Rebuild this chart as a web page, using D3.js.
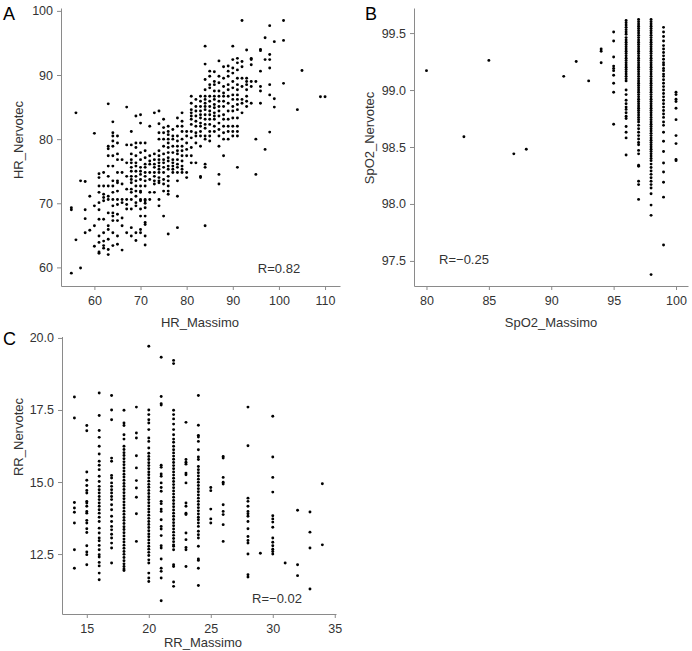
<!DOCTYPE html>
<html><head><meta charset="utf-8">
<script src="https://cdn.jsdelivr.net/npm/d3@7"></script>
<style>body{margin:0;background:#fff}svg{display:block;font-family:"Liberation Sans",Arial,Helvetica,sans-serif}</style>
</head><body>
<svg id="chart" width="692" height="651"></svg>
<script>
// ---------- Panel A: HR ----------
const hrMassimo = [55,56,57,58,59,60,61,62,63,64,65,66,67,68,69,70,71,72,73,74,75,76,77,78,79,80,81,82,83,84,85,86,87,88,89,90,91,92,93,94,95,96,97,98,99,101,104,105,109,110];
const hrNervotec = [
 [59.1,69.3,69.0],
 [84.1,64.3],
 [59.9,73.5],
 [73.4,69.0,67.6,65.4],
 [71.1,65.8],
 [80.9,69.6,66.5,63.3],
 [74.6,74.0,72.7,71.7,70.1,69.0,67.5,64.9,63.9,62.4,62.2],
 [74.8,72.7,71.4,70.9,70.4,67.5,65.4,64.1,63.4,63.0],
 [85.5,78.9,78.5,77.4,75.8,74.2,72.7,71.1,70.6,68.5,66.5,65.9,64.4,62.8,62.0],
 [82.7,81.0,80.5,79.7,78.9,77.4,75.8,73.5,72.7,71.7,70.6,69.6,68.5,68.0,67.3,65.4,63.4],
 [80.5,79.4,77.7,76.8,74.8,73.5,73.2,71.9,70.6,69.8,68.3,67.3,64.9,63.6],
 [76.8,74.8,73.0,70.6,70.1,67.7,66.5,62.7],
 [85.0,79.1,76.3,74.2,72.2,70.6,69.8,69.1,65.4],
 [81.2,79.1,77.7,76.8,76.3,75.6,75.0,74.2,73.7,73.2,72.2,71.7,70.6,69.1,66.2,64.9],
 [83.6,79.4,78.7,77.4,76.3,75.8,75.0,74.2,73.5,72.7,71.9,71.1,70.1,69.6,65.4,64.2],
 [83.8,82.5,79.4,77.9,76.8,75.6,75.0,74.5,73.7,72.7,71.9,71.7,70.6,70.4,69.1,68.0,65.9,65.4],
 [79.4,78.2,77.1,76.1,75.6,74.8,74.2,73.5,72.7,70.6,70.4,70.0,69.3,68.0,67.0,66.7,64.9,63.5],
 [82.0,77.4,76.6,76.1,74.8,73.7,71.7,70.6],
 [84.1,77.7,76.8,76.1,75.6,74.8,74.2,73.5,73.0,71.7],
 [84.4,82.4,81.0,80.0,78.2,77.4,76.8,76.3,75.8,75.3,74.8,74.0,73.5,73.2,70.6,69.6],
 [83.1,81.8,81.0,80.0,78.9,77.7,76.8,76.3,75.6,74.8,73.7,73.0,71.9,68.0],
 [82.0,81.2,80.7,80.0,79.4,78.7,77.9,77.1,76.6,75.8,75.3,74.2,73.5,72.7,71.9,71.4,65.2],
 [81.5,80.5,80.0,78.9,77.9,76.8,76.3,75.8,75.3,74.8],
 [83.3,82.0,80.5,79.7,78.9,78.2,77.7,76.8,76.1,75.6,74.8,73.5,71.1,66.2],
 [84.1,82.8,82.0,81.2,80.0,78.9,78.2,77.4,76.6,75.8,75.3,74.8],
 [81.2,80.5,79.4,78.4,77.4,74.8,74.0],
 [86.7,85.6,84.6,84.1,83.6,83.1,82.3,81.2,80.2,78.7,77.4,76.3],
 [86.2,85.1,84.4,83.6,82.8,82.0,81.0,80.5,79.4,76.3],
 [86.7,85.9,85.1,84.4,83.8,83.3,82.5,82.0,81.2,80.5,78.9,74.2,74.0],
 [94.5,91.7,89.3,87.7,86.7,86.2,85.6,85.1,84.6,83.8,83.1,82.3,81.7,80.5,80.0,76.1,75.6,66.5],
 [90.6,89.8,88.5,88.0,86.7,85.9,85.1,84.4,83.8,83.1,82.3,81.2,80.5,79.7],
 [90.5,89.0,88.5,87.5,86.7,86.2,85.4,84.9,84.1,83.6,83.1,82.0,81.2],
 [92.2,89.8,88.8,87.5,86.7,85.9,85.1,84.4,83.6,82.5,81.5,80.5,78.9,74.5,73.0],
 [91.3,89.5,88.2,87.2,86.7,85.9,85.1,83.8,83.1,82.0,81.0,80.0,77.4],
 [91.4,90.6,89.8,88.5,87.7,86.7,85.6,84.4,83.1,82.0,81.2,80.0],
 [94.5,92.4,91.1,90.3,89.0,88.0,86.9,86.2,85.1,84.4,83.3,82.0,81.2,80.5],
 [92.6,91.9,90.8,89.5,88.5,87.7,86.9,86.2,85.4,84.6,83.3,82.0,81.2,80.5,75.6],
 [98.5,92.1,91.3,89.5,88.2,86.2,85.6,84.1],
 [93.9,89.5,89.0,88.5,87.7,86.7,85.9,85.1],
 [92.6,92.4,91.6,89.0,88.2,85.6],
 [89.0,80.0,74.5],
 [94.0,93.8,90.6,88.2,87.5,85.6],
 [95.8,92.4,78.4],
 [97.7,93.2,92.4,91.1,88.5,86.9,81.1],
 [95.2,86.3,85.0],
 [98.5,95.4,88.7],
 [84.6],
 [90.7],
 [86.6],
 [86.6]
];
const hrXTicks = [60,70,80,90,100,110];
const hrYTicks = [60,70,80,90,100];

// ---------- Panel B: SpO2 ----------
const spo2Massimo = [80,83,85,87,88,91,92,93,94,95,96,97,98,99,100];
const spo2Nervotec = [
 [99.17],[98.59],[99.26],[98.44],[98.48],[99.12],[99.25],[99.08],
 [99.36,99.34,99.24],
 [99.51,99.43,99.29,99.21,99.19,99.17,99.13,99.06,98.98,98.70],
 [99.61,99.59,99.57,99.55,99.53,99.51,99.49,99.46,99.44,99.42,99.40,99.38,99.36,99.34,99.32,99.30,99.28,99.26,99.24,99.22,99.20,99.18,99.16,99.14,99.12,99.10,99.08,99.00,98.96,98.91,98.88,98.85,98.83,98.80,98.77,98.75,98.68,98.63,98.58,98.43],
 [99.62,99.60,99.58,99.56,99.54,99.52,99.50,99.48,99.46,99.44,99.42,99.40,99.38,99.36,99.34,99.32,99.30,99.28,99.26,99.24,99.22,99.20,99.18,99.16,99.14,99.12,99.10,99.08,99.06,99.04,99.02,99.00,98.98,98.96,98.94,98.92,98.90,98.88,98.86,98.84,98.82,98.80,98.78,98.76,98.74,98.72,98.69,98.66,98.63,98.60,98.57,98.54,98.52,98.47,98.44,98.34,98.33,98.20,98.17,98.04],
 [99.62,99.60,99.58,99.56,99.54,99.52,99.50,99.48,99.46,99.44,99.42,99.40,99.38,99.36,99.34,99.32,99.30,99.28,99.26,99.24,99.22,99.20,99.18,99.16,99.14,99.12,99.10,99.08,99.06,99.04,99.02,99.00,98.98,98.96,98.94,98.92,98.90,98.88,98.86,98.84,98.82,98.80,98.78,98.76,98.74,98.72,98.70,98.68,98.66,98.64,98.62,98.60,98.58,98.56,98.54,98.52,98.50,98.48,98.46,98.44,98.42,98.40,98.38,98.35,98.32,98.29,98.26,98.23,98.20,98.17,98.14,98.09,97.99,97.90,97.38],
 [99.55,99.51,99.47,99.43,99.39,99.36,99.33,99.30,99.27,99.24,99.22,99.19,99.17,99.14,99.12,99.09,99.06,99.03,99.00,98.97,98.94,98.91,98.88,98.85,98.82,98.79,98.76,98.72,98.69,98.63,98.55,98.46,98.36,98.28,98.19,98.06,97.64],
 [98.98,98.96,98.92,98.90,98.84,98.74,98.60,98.53,98.39,98.38]
];
const spo2XTicks = [80,85,90,95,100];
const spo2YTicks = [97.5,98.0,98.5,99.0,99.5];

// ---------- Panel C: RR ----------
const rrMassimo = [14,15,16,17,18,19,20,21,22,23,24,25,26,28,29,30,31,32,33,34];
const rrNervotec = [
 [17.95,17.22,14.29,14.10,13.95,13.58,12.65,12.01],
 [16.96,16.78,15.35,15.06,14.88,14.71,14.62,14.33,14.27,14.16,13.98,13.92,13.67,13.58,13.38,13.25,12.79,12.57,12.48,12.13],
 [18.09,17.31,16.79,16.55,16.24,15.97,15.72,15.58,15.43,15.20,15.02,14.85,14.73,14.62,14.50,14.39,14.27,14.16,14.04,13.92,13.78,13.63,13.40,13.23,13.06,12.96,12.80,12.65,12.48,12.40,12.21,12.09,11.84,11.61],
 [18.00,17.50,17.16,15.83,15.72,15.23,15.14,14.97,14.85,14.73,14.62,14.50,14.39,14.21,14.04,13.81,13.63,13.46,13.34,13.19,13.06,12.88,12.71,12.19],
 [17.49,17.05,16.96,16.64,16.49,16.24,16.13,16.02,15.92,15.81,15.70,15.60,15.49,15.38,15.27,15.17,15.06,14.95,14.85,14.74,14.63,14.52,14.42,14.31,14.20,14.10,13.99,13.88,13.77,13.67,13.56,13.45,13.35,13.24,13.13,13.02,12.92,12.81,12.70,12.59,12.49,12.38,12.27,12.16,12.07,11.98,11.93],
 [17.60,16.70,16.53,15.91,15.49,15.05,14.79,14.47,13.90,12.94],
 [19.71,17.50,17.34,17.16,17.05,16.82,16.53,16.41,16.18,16.00,15.89,15.78,15.67,15.57,15.46,15.35,15.25,15.14,15.03,14.92,14.82,14.71,14.60,14.49,14.39,14.28,14.17,14.06,13.96,13.85,13.74,13.63,13.53,13.42,13.31,13.20,13.10,12.99,12.88,12.77,12.67,12.56,12.45,12.30,12.19,11.84,11.67,11.55],
 [19.33,17.97,17.72,17.67,15.58,15.51,15.28,15.20,14.97,14.81,14.68,14.33,14.25,14.06,13.98,13.69,13.46,13.37,13.14,12.79,12.71,12.33,12.01,11.90,11.67,10.88],
 [19.22,19.11,17.49,17.34,17.19,17.01,16.82,16.64,16.49,16.38,16.24,16.12,16.01,15.90,15.79,15.68,15.57,15.46,15.35,15.24,15.13,15.02,14.91,14.80,14.69,14.58,14.47,14.36,14.25,14.14,14.03,13.92,13.81,13.70,13.59,13.48,13.37,13.26,13.15,13.04,12.93,12.82,12.77,12.65,12.13,12.07,11.53,11.38],
 [17.07,15.78,15.69,15.62,15.31,15.25,14.97,14.27,14.16,13.92,13.87,13.23,13.00,12.73,12.65,12.07],
 [18.00,16.97,16.62,16.56,16.41,16.12,15.87,15.78,15.54,15.43,15.32,15.21,15.10,14.99,14.88,14.77,14.66,14.55,14.44,14.33,14.22,14.11,14.00,13.89,13.78,13.69,13.58,13.46,13.29,13.17,13.06,12.77,12.33,12.28,12.01,11.41],
 [14.81,14.70,14.06,13.72,13.58],
 [15.89,15.83,15.16,14.99,14.93,14.21,13.98,13.87,13.52,12.94],
 [17.60,16.26,14.44,14.33,14.16,13.98,13.90,13.81,13.63,13.38,13.11,12.97,12.88,12.50,11.78,11.70],
 [12.53],
 [17.28,15.87,15.16,14.65,13.83,13.72,13.61,13.43,13.06,12.91,12.79,12.67,12.59,12.50],
 [12.19],
 [14.02,12.13,11.75],
 [13.96,13.26,12.71,11.29],
 [14.94,12.82]
];
const rrXTicks = [15,20,25,30,35];
const rrYTicks = [12.5,15.0,17.5,20.0];

const correlations = ["R=0.82","R=\u22120.25","R=\u22120.02"];
const panelLetters = ["A","B","C"];
const xTitles = ["HR_Massimo","SpO2_Massimo","RR_Massimo"];
const yTitles = ["HR_Nervotec","SpO2_Nervotec","RR_Nervotec"];

// ---------- layout ----------
const panels = [
 {xs:hrMassimo, ys:hrNervotec, xTicks:hrXTicks, yTicks:hrYTicks, yFmt:d3.format("d"),
  xDomain:[52.76,113.24], xRange:[61,340], yDomain:[57.1,100.45], yRange:[286,8],
  letter:[3,20], yTitle:[18,140], xTitle:[200,327], r:[279,273]},
 {xs:spo2Massimo, ys:spo2Nervotec, xTicks:spo2XTicks, yTicks:spo2YTicks, yFmt:d3.format(".1f"),
  xDomain:[79.0,100.96], xRange:[414,688], yDomain:[97.28,99.72], yRange:[286,8],
  letter:[365,20], yTitle:[369,138], xTitle:[551,327], r:[464,264]},
 {xs:rrMassimo, ys:rrNervotec, xTicks:rrXTicks, yTicks:rrYTicks, yFmt:d3.format(".1f"),
  xDomain:[13.0,35.1], xRange:[62,336], yDomain:[10.42,20.05], yRange:[614,336.5],
  letter:[3,345], yTitle:[18,437], xTitle:[203,647], r:[277,603]}
];

const svg = d3.select("#chart");
const axisColor = "#8a8a8a", textColor = "#333";

panels.forEach((p,i)=>{
  const x = d3.scaleLinear().domain(p.xDomain).range(p.xRange);
  const y = d3.scaleLinear().domain(p.yDomain).range(p.yRange);
  const g = svg.append("g");
  const pts = p.xs.flatMap((xv,k)=>p.ys[k].map(yv=>[xv,yv]));
  g.append("g").selectAll("circle").data(pts).join("circle")
    .attr("cx",d=>x(d[0])).attr("cy",d=>y(d[1])).attr("r",1.45).attr("fill","#000");

  const xa = g.append("g").attr("transform",`translate(0,${p.yRange[0]})`)
    .call(d3.axisBottom(x).tickValues(p.xTicks).tickSize(4).tickSizeOuter(0).tickPadding(6));
  const ya = g.append("g").attr("transform",`translate(${p.xRange[0]},0)`)
    .call(d3.axisLeft(y).tickValues(p.yTicks).tickFormat(p.yFmt).tickSize(4).tickSizeOuter(0).tickPadding(4));
  [xa,ya].forEach(a=>{
    a.select(".domain").attr("stroke",axisColor).attr("stroke-width",1);
    a.selectAll(".tick line").attr("stroke",axisColor);
    a.selectAll(".tick text").attr("fill",textColor).style("font-size","12.5px");
  });

  g.append("text").attr("x",p.xTitle[0]).attr("y",p.xTitle[1]).attr("text-anchor","middle")
    .attr("fill",textColor).style("font-size","13px").text(xTitles[i]);
  g.append("text").attr("transform",`translate(${p.yTitle[0]},${p.yTitle[1]}) rotate(-90)`)
    .attr("text-anchor","middle").attr("dy","0.35em").attr("fill",textColor).style("font-size","13px").text(yTitles[i]);
  g.append("text").attr("x",p.r[0]).attr("y",p.r[1]).attr("text-anchor","middle")
    .attr("fill",textColor).style("font-size","13px").text(correlations[i]);
  g.append("text").attr("x",p.letter[0]).attr("y",p.letter[1])
    .attr("fill","#000").style("font-size","18px").text(panelLetters[i]);
});
</script>
</body></html>
